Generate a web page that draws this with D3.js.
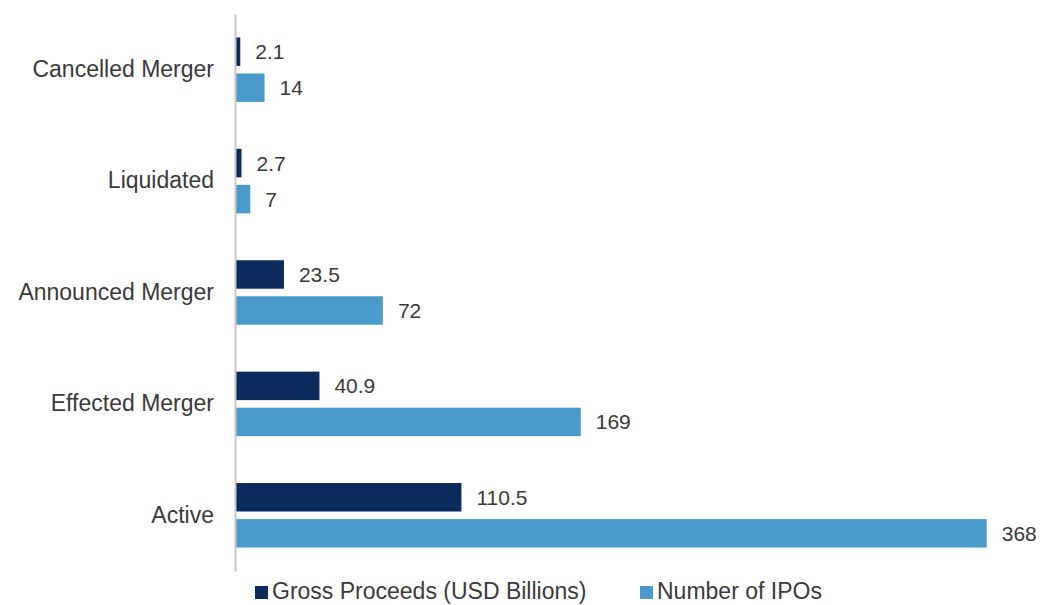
<!DOCTYPE html>
<html>
<head>
<meta charset="utf-8">
<script src="https://cdn.jsdelivr.net/npm/d3@7"></script>
<style>
  body { margin: 0; background: #fff; }
  text { font-family: "Liberation Sans", Arial, sans-serif; fill: #3a3a3a; }
</style>
</head>
<body>
<script>
// Data
const categories = ["Cancelled Merger", "Liquidated", "Announced Merger", "Effected Merger", "Active"];
const seriesNames = ["Gross Proceeds (USD Billions)", "Number of IPOs"];
const grossProceeds = [2.1, 2.7, 23.5, 40.9, 110.5];
const numberOfIPOs = [14, 7, 72, 169, 368];
const seriesColors = ["#0b2b5c", "#4a9bcb"];

// Main
const svgwidth = 1046;
const svgheight = 605;
const axisX = 236;

let svg = d3.select("body").append("svg")
    .attr("width", svgwidth)
    .attr("height", svgheight)

let rows = categories.map((c, i) => ({
    cat: c,
    values: [grossProceeds[i], numberOfIPOs[i]]
}))

let xScale = d3.scaleLinear()
    .domain([0, 400])
    .range([axisX, axisX + 816])

let yScale = d3.scaleBand()
    .domain(categories)
    .range([14, 571])

let ySub = d3.scaleBand()
    .domain([0, 1])
    .range([0, yScale.bandwidth()])
    .paddingInner(0.21)
    .paddingOuter(0.65)

let groups = svg.selectAll(".group")
    .data(rows).enter()
        .append("g")
    .attr("class", "group")
    .attr("transform", d => `translate(0, ${yScale(d.cat)})`)

groups.selectAll("rect")
    .data(d => d.values).enter()
        .append("rect")
    .attr("x", xScale(0))
    .attr("y", (d, i) => ySub(i))
    .attr("width", d => xScale(d) - xScale(0))
    .attr("height", ySub.bandwidth())
    .attr("fill", (d, i) => seriesColors[i])

groups.selectAll(".value-label")
    .data(d => d.values).enter()
        .append("text")
    .attr("class", "value-label")
    .attr("x", d => xScale(d) + 15)
    .attr("y", (d, i) => ySub(i) + ySub.bandwidth() / 2)
    .attr("dy", ".36em")
    .style("font-size", "21px")
    .text(d => d)

// category axis
let yAxis = svg.append("g")
    .attr("transform", `translate(${axisX - 1}, 0)`)
    .call(d3.axisLeft(yScale).tickSize(0).tickPadding(21))
yAxis.select(".domain").attr("stroke", "#c8c8c8").attr("stroke-width", 2)
yAxis.selectAll("text")
    .style("font-size", "23px")
    .attr("fill", "#3a3a3a")
    .attr("font-family", null)

// legend
const legendX = [255, 640];
let legend = svg.selectAll(".legend")
    .data(seriesNames).enter()
        .append("g")
    .attr("class", "legend")
    .attr("transform", (d, i) => `translate(${legendX[i]}, 584)`)
legend.append("rect")
    .attr("y", 2)
    .attr("width", 13)
    .attr("height", 13)
    .attr("fill", (d, i) => seriesColors[i])
legend.append("text")
    .attr("x", 17)
    .attr("y", 7)
    .attr("dy", ".33em")
    .style("font-size", "23px")
    .text(d => d)
</script>
</body>
</html>
